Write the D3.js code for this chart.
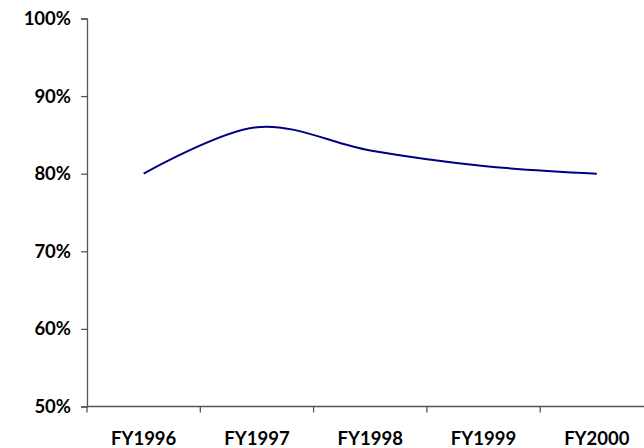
<!DOCTYPE html>
<html>
<head>
<meta charset="utf-8">
<script src="https://cdn.jsdelivr.net/npm/d3@7/dist/d3.min.js"></script>
<style>
  html, body { margin: 0; padding: 0; background: #fff; }
  svg { display: block; }
  .lbl { font-family: Lato, "Open Sans", sans-serif; font-weight: bold; fill: #000; }
</style>
</head>
<body>
<svg id="chart" width="644" height="448"></svg>
<script>
// Fiscal-year categories and their rate values
const years = ["FY1996", "FY1997", "FY1998", "FY1999", "FY2000"];
const rates = [0.80, 0.86, 0.83, 0.81, 0.80];
const yTicks = [0.5, 0.6, 0.7, 0.8, 0.9, 1.0];

const svg = d3.select("#chart");
const plotLeft = 87, bandW = 113.3, plotTop = 18.5, plotBottom = 406.5;
const fontPx = "18.5px";

const x = d3.scaleBand().domain(years).range([plotLeft, plotLeft + bandW * years.length]);
const y = d3.scaleLinear().domain([0.5, 1.0]).range([plotBottom, plotTop]);

const axisColor = "#555";

// Value axis
const yAxis = svg.append("g").attr("transform", `translate(${plotLeft},0)`)
  .call(d3.axisLeft(y).tickValues(yTicks).tickFormat(d3.format(".0%")).tickSize(6).tickPadding(10));
yAxis.select(".domain").attr("stroke", axisColor).attr("stroke-width", 1.3);
yAxis.selectAll(".tick line").attr("stroke", axisColor).attr("stroke-width", 1.3);
yAxis.selectAll("text").attr("class", "lbl").style("font-size", fontPx);

// Category axis with ticks between categories
const xAxis = svg.append("g").attr("transform", `translate(0,${plotBottom})`);
xAxis.append("line").attr("x1", plotLeft).attr("x2", 644).attr("stroke", axisColor).attr("stroke-width", 1.3);
xAxis.selectAll("line.tk").data(years).join("line").attr("class", "tk")
  .attr("x1", d => x(d)).attr("x2", d => x(d)).attr("y1", 0).attr("y2", 6)
  .attr("stroke", axisColor).attr("stroke-width", 1.3);
xAxis.selectAll("text").data(years).join("text").attr("class", "lbl")
  .attr("x", d => x(d) + x.bandwidth() / 2).attr("y", 38)
  .attr("text-anchor", "middle").style("font-size", fontPx).text(d => d);

// Smoothed series line
const line = d3.line()
  .x((d, i) => x(years[i]) + x.bandwidth() / 2)
  .y(d => y(d))
  .curve(d3.curveCatmullRom.alpha(0));
svg.append("path").datum(rates).attr("d", line)
  .attr("fill", "none").attr("stroke", "#000080").attr("stroke-width", 2);
</script>
</body>
</html>
